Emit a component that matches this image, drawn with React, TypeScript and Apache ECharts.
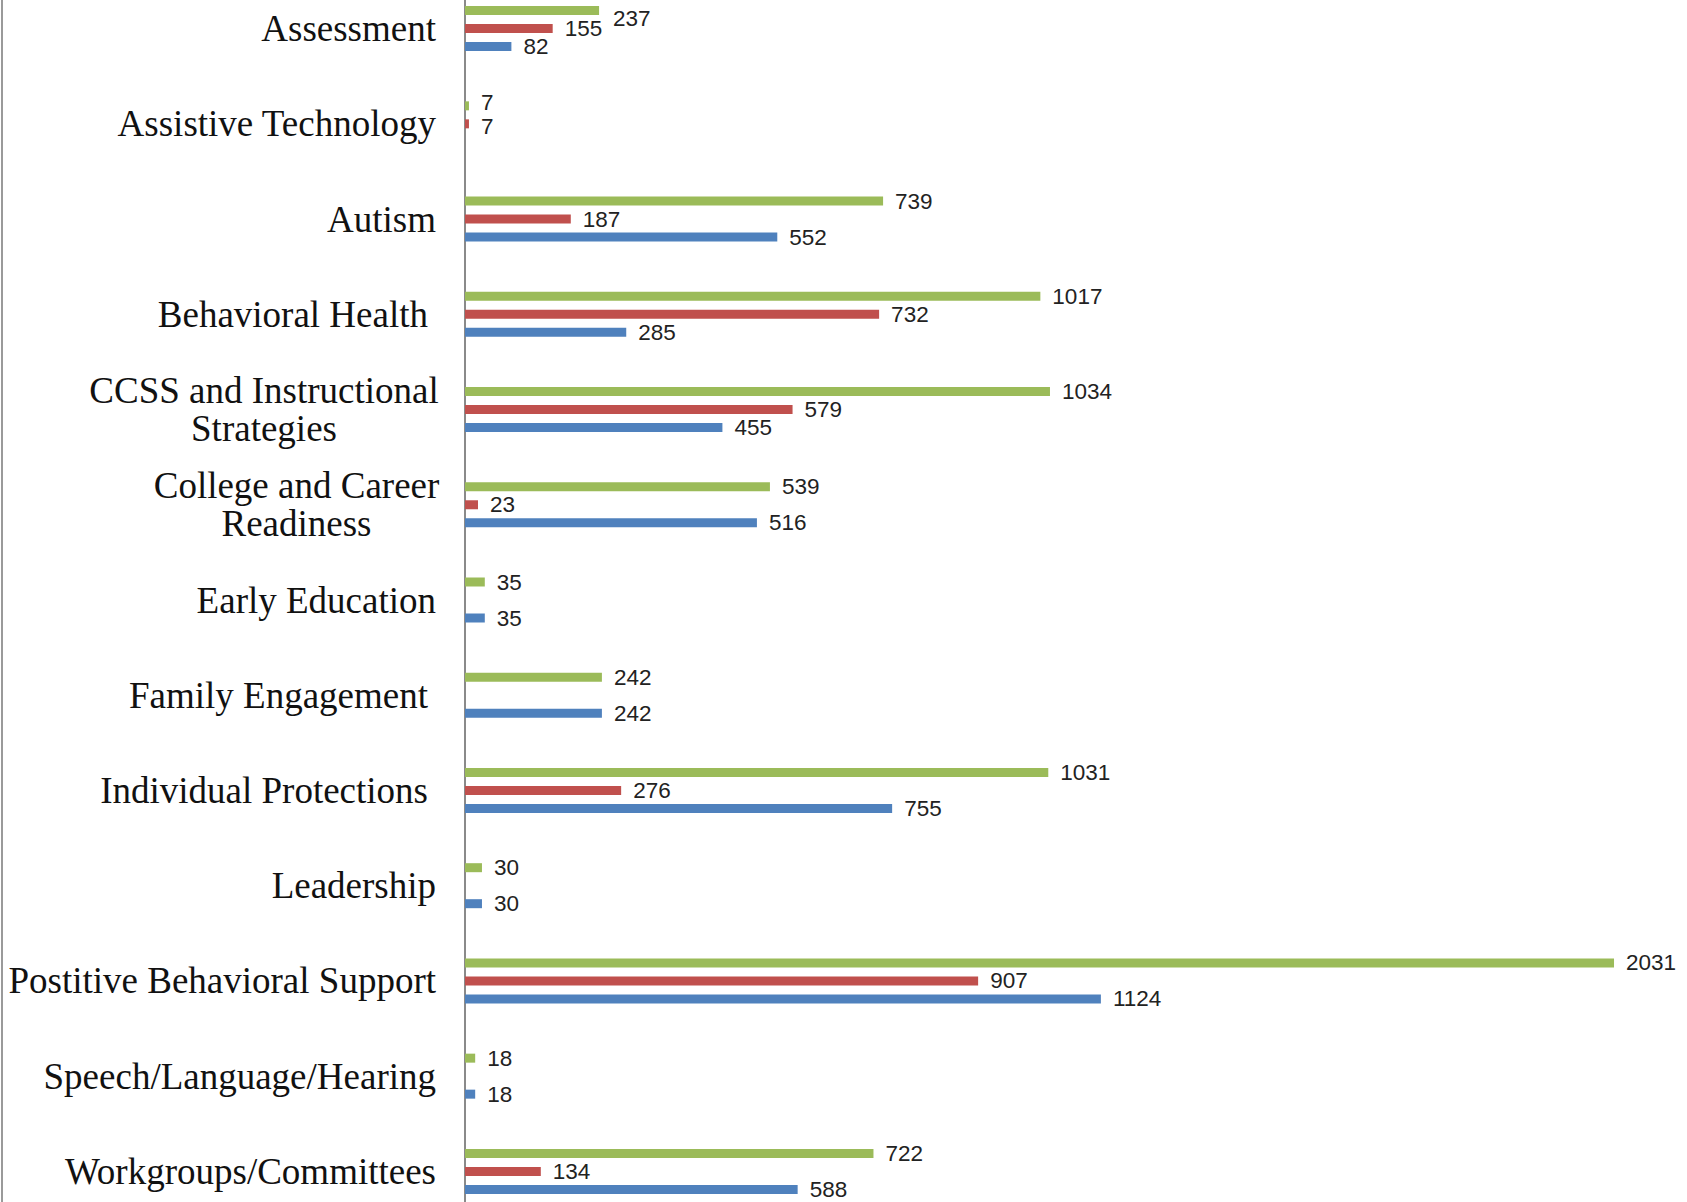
import React, { useEffect, useRef } from "react";
import * as echarts from "echarts";

const categories = [
  "Assessment",
  "Assistive Technology",
  "Autism",
  "Behavioral Health",
  "CCSS and Instructional\nStrategies",
  "College and Career\nReadiness",
  "Early Education",
  "Family Engagement",
  "Individual Protections",
  "Leadership",
  "Postitive Behavioral Support",
  "Speech/Language/Hearing",
  "Workgroups/Committees",
];
const totalValues = [237, 7, 739, 1017, 1034, 539, 35, 242, 1031, 30, 2031, 18, 722];
const redValues = [155, 7, 187, 732, 579, 23, null, null, 276, null, 907, null, 134];
const blueValues = [82, null, 552, 285, 455, 516, 35, 242, 755, 30, 1124, 18, 588];
const indentedLabels = ["Behavioral Health", "Family Engagement", "Individual Protections"];

const SERIF = "'Liberation Serif', 'Times New Roman', serif";
const SANS = "'Liberation Sans', Arial, sans-serif";

// label nudges (series index -> category index -> [dx, dy]) to keep labels readable like the original
const labelNudges: Record<number, Record<number, [number, number]>> = {
  0: { 0: [2, 8], 1: [0, -3] },
  1: { 1: [0, 3] },
};

function withNudges(values: (number | null)[], seriesIndex: number) {
  const nudges = labelNudges[seriesIndex] || {};
  return values.map((v, i) =>
    nudges[i] ? { value: v, label: { offset: nudges[i] } } : v
  );
}

export default function App() {
  const ref = useRef<HTMLDivElement>(null);
  useEffect(() => {
    document.body.style.margin = "0";
    const chart = echarts.init(ref.current!, undefined, { renderer: "svg" });
    const labelStyle = {
      show: true,
      position: "right" as const,
      distance: 12,
      fontFamily: SANS,
      fontSize: 22.5,
      lineHeight: 17,
      color: "#222",
    };
    const catText = { fontFamily: SERIF, fontSize: 37, color: "#111", lineHeight: 38 };
    chart.setOption({
      animation: false,
      backgroundColor: "#ffffff",
      grid: { left: 465, right: 0, top: 0, bottom: 0, containLabel: false },
      xAxis: {
        type: "value",
        min: 0,
        max: 2160,
        show: false,
        splitLine: { show: false },
      },
      yAxis: {
        type: "category",
        data: categories,
        inverse: true,
        axisLine: { show: true, lineStyle: { color: "#8a8a8a", width: 2 } },
        axisTick: { show: false },
        axisLabel: {
          margin: 29,
          align: "right",
          ...catText,
          formatter: (v: string) => {
            if (v.startsWith("CCSS")) {
              return v.split("\n").map((s) => `{a|${s}}`).join("\n");
            }
            if (v.startsWith("College")) {
              return v.split("\n").map((s) => `{b|${s}}`).join("\n");
            }
            if (indentedLabels.indexOf(v) >= 0) {
              return `{p|${v}}`;
            }
            return v;
          },
          rich: {
            a: { width: 344, align: "center", ...catText },
            b: { width: 279, align: "center", ...catText },
            p: { padding: [0, 8, 0, 0], ...catText },
          },
        },
      },
      graphic: [
        {
          type: "line",
          shape: { x1: 2, y1: 0, x2: 2, y2: 1240 },
          style: { stroke: "#9a9a9a", lineWidth: 2 },
        },
      ],
      series: [
        {
          name: "Total",
          type: "bar",
          data: withNudges(totalValues, 0),
          barWidth: 9,
          barGap: "100%",
          itemStyle: { color: "#9BBB59" },
          label: labelStyle,
        },
        {
          name: "Red",
          type: "bar",
          data: withNudges(redValues, 1),
          barWidth: 9,
          barGap: "100%",
          itemStyle: { color: "#C0504D" },
          label: labelStyle,
        },
        {
          name: "Blue",
          type: "bar",
          data: withNudges(blueValues, 2),
          barWidth: 9,
          barGap: "100%",
          itemStyle: { color: "#4F81BD" },
          label: labelStyle,
        },
      ],
    });
    return () => chart.dispose();
  }, []);
  return (
    <div style={{ position: "relative", width: 1687, height: 1202, overflow: "hidden", background: "#fff" }}>
      <div ref={ref} style={{ position: "absolute", left: 0, top: -19, width: 1687, height: 1238 }} />
    </div>
  );
}
